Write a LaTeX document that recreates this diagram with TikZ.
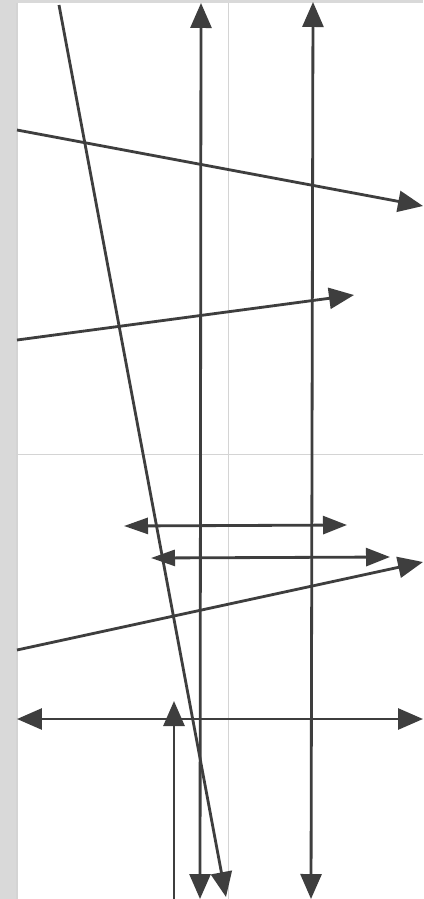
\documentclass[tikz,border=0pt]{standalone}
\usepackage{tikz}
\usetikzlibrary{arrows.meta}
\definecolor{pen}{HTML}{3E3E3E}
\definecolor{strip}{HTML}{D9D9D9}
\definecolor{gridgray}{HTML}{D4D4D4}

\begin{document}
\begin{tikzpicture}[x=0.02cm, y=-0.02cm,
		arr/.style={draw=pen, line width=1.6pt, -{Triangle[length=0.5cm,width=0.42cm]}},
		dbl/.style={draw=pen, line width=1.6pt, {Triangle[length=0.5cm,width=0.42cm]}-{Triangle[length=0.5cm,width=0.42cm]}},
		small/.style={draw=pen, line width=1.6pt, {Triangle[length=0.48cm,width=0.32cm]}-{Triangle[length=0.48cm,width=0.36cm]}}]
				\useasboundingbox (0,0) rectangle (423,899);
				\fill[strip] (0,0) rectangle (423,899);
				\fill[white] (17,3) rectangle (423,899);
				\draw[gridgray, line width=0.6pt] (17,3) -- (17,899);
				\draw[gridgray, line width=0.4pt] (228,3) -- (228,899);
				\draw[gridgray, line width=0.4pt] (17,454) -- (423,454);

				\coordinate (d1) at (59,5);
				\coordinate (d2) at (226,897);
				\coordinate (va1) at (200,899);
				\coordinate (va2) at (201,3);
				\coordinate (vb1) at (311,899);
				\coordinate (vb2) at (313,2);
				\coordinate (s1) at (17,130);
				\coordinate (s2) at (423,206);
				\coordinate (r1) at (17,340);
				\coordinate (r2) at (354,295);
				\coordinate (h1) at (124,526);
				\coordinate (h2) at (347,525);
				\coordinate (k1) at (151,558);
				\coordinate (k2) at (390,557);
				\coordinate (u1) at (17,650);
				\coordinate (u2) at (423,562);
				\coordinate (w1) at (17,719);
				\coordinate (w2) at (423,719);
				\coordinate (p1) at (174,899);
				\coordinate (p2) at (174,701);

				\draw[arr] (d1) -- (d2);
				\draw[dbl] (va1) -- (va2);
				\draw[dbl] (vb1) -- (vb2);
				\draw[arr] (s1) -- (s2);
				\draw[arr] (r1) -- (r2);
				\draw[small] (h1) -- (h2);
				\draw[small] (k1) -- (k2);
				\draw[arr] (u1) -- (u2);
				\draw[dbl] (w1) -- (w2);
				\draw[arr] (p1) -- (p2);
			\end{tikzpicture}
\end{document}
